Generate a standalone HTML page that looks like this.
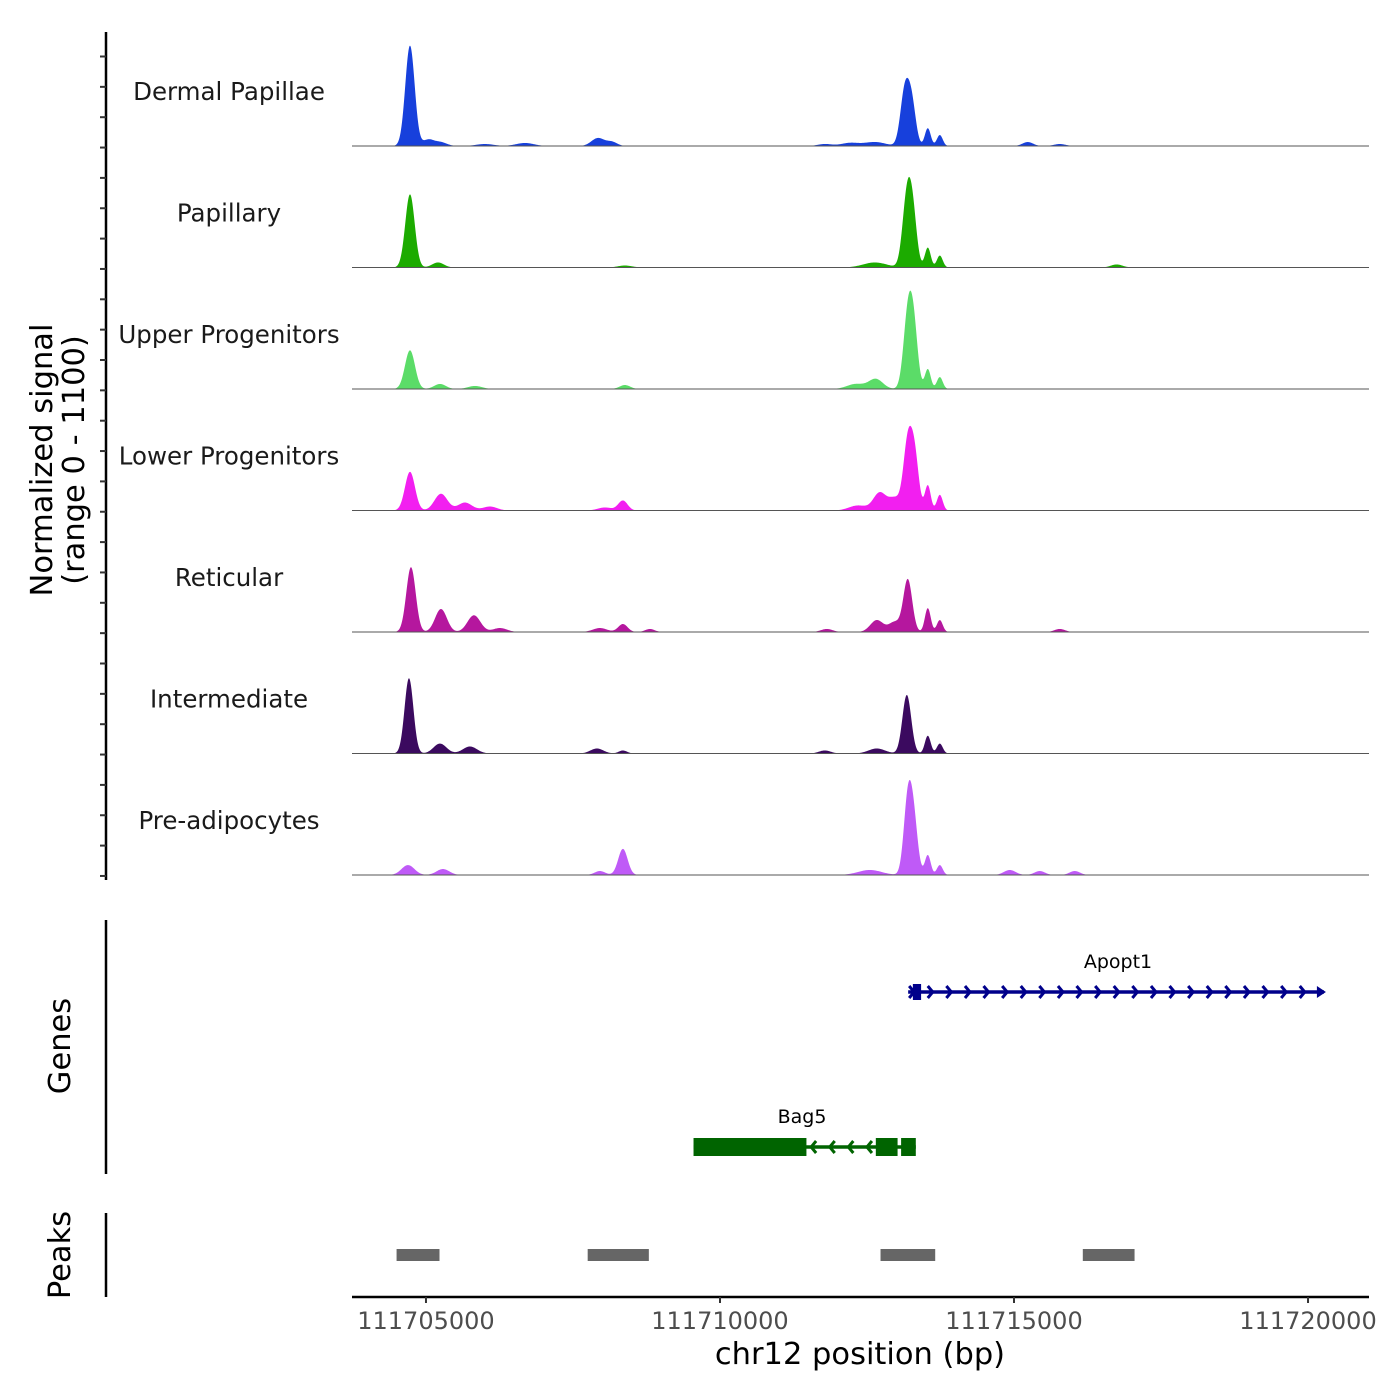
<!DOCTYPE html>
<html><head><meta charset="utf-8">
<style>
html,body{margin:0;padding:0;background:#fff;}
svg{display:block;font-family:"DejaVu Sans","Liberation Sans",sans-serif;}
</style></head>
<body>
<svg id="chart" width="1400" height="1400" viewBox="0 0 1400 1400"></svg>
<script>
// ---- data ----
const xDomain = [111703742, 111721037];
const xTicks = [111705000, 111710000, 111715000, 111720000];
const yMax = 1100;
const trackNames = ["Dermal Papillae","Papillary","Upper Progenitors","Lower Progenitors","Reticular","Intermediate","Pre-adipocytes"];
const trackColors = ["#1740dc","#1cab00","#5bdc68","#f21ff0","#b5179e","#3b0a5f","#bf5af7"];
// peaks per track: positions (bp), heights (signal), widths (bp sigma)
const peakPos = [
 [111704728,111705034,111705238,111706003,111706683,111707924,111708162,111711783,111712208,111712633,111713143,111713262,111713534,111713738,111715234,111715778],
 [111704728,111705204,111708383,111712633,111713177,111713279,111713534,111713738,111716747],
 [111704728,111705238,111705833,111708383,111712310,111712650,111713194,111713296,111713534,111713738],
 [111704728,111705255,111705663,111706088,111708043,111708349,111712344,111712718,111712973,111713194,111713313,111713534,111713738],
 [111704745,111705255,111705816,111706258,111707958,111708349,111708808,111711817,111712667,111712973,111713194,111713534,111713738,111715778],
 [111704711,111705238,111705748,111707907,111708349,111711783,111712667,111713177,111713534,111713738],
 [111704694,111705289,111707958,111708349,111712548,111713194,111713296,111713534,111713738,111714928,111715438,111716033]
];
const peakHeight = [
 [960,57,38,19,29,76,38,19,29,38,520,380,170,105,38,19],
 [700,48,19,48,640,460,190,114,29],
 [370,48,29,38,48,95,680,520,190,114],
 [370,160,76,38,29,95,48,170,114,640,475,240,150],
 [620,220,160,38,38,76,29,29,114,95,500,228,114,29],
 [720,95,67,48,29,29,48,560,170,95],
 [95,57,38,250,48,690,475,190,95,48,38,38]
];
const peakWidth = [
 [80,90,110,150,150,110,90,120,150,180,75,70,50,50,90,100],
 [80,100,120,200,75,70,50,50,100],
 [85,100,120,90,150,120,75,70,50,50],
 [85,110,120,120,120,80,150,110,100,75,70,50,50],
 [80,100,110,120,120,80,80,100,110,100,75,50,50,90],
 [75,110,120,110,70,100,140,75,50,50],
 [110,110,90,80,200,70,70,50,50,100,90,90]
];
const geneNames = ["Apopt1","Bag5"];
const geneStart = [111713200, 111709550];
const geneEnd = [111720270, 111713330];
const geneStrand = [1, -1];
const exonStart = [[111713280],[111709550,111712650,111713080]];
const exonEnd = [[111713420],[111711470,111713020,111713330]];
const peakRegStart = [111704500, 111707750, 111712730, 111716170];
const peakRegEnd = [111705230, 111708790, 111713660, 111717050];

// ---- layout ----
const NS="http://www.w3.org/2000/svg";
const svg=document.getElementById('chart');
const X0=352,X1=1369;
const xs=v=>X0+(v-xDomain[0])/(xDomain[1]-xDomain[0])*(X1-X0);
const trackH=121.5, firstBase=146, pxMax=115;
function mk(tag,attrs,parent){const e=document.createElementNS(NS,tag);for(const k in attrs)e.setAttribute(k,attrs[k]);(parent||svg).appendChild(e);return e;}

for(let t=0;t<trackNames.length;t++){
  const base=firstBase+t*trackH;
  const g=mk('g',{});
  
  
  const ys=v=>base-v/yMax*pxMax;
  let d='M'+X0+','+base;
  for(let px=X0;px<=X1;px+=0.5){
    const bp=xDomain[0]+(px-X0)/(X1-X0)*(xDomain[1]-xDomain[0]);
    let s=0;
    for(let i=0;i<peakPos[t].length;i++){const z=(bp-peakPos[t][i])/peakWidth[t][i];s+=peakHeight[t][i]*Math.exp(-0.5*z*z);}
    d+=' L'+px.toFixed(1)+','+ys(s).toFixed(2);
  }
  d+=' L'+X1+','+base+' Z';
  const p=mk('path',{d:d,fill:trackColors[t],stroke:'none'},g);
  
  
  const bl=mk('line',{x1:X0,x2:X1,y1:base,y2:base,stroke:'#555','stroke-width':1},g);
  
  
  const lb=mk('text',{x:229,y:base-46,'font-size':24.5,'text-anchor':'middle',fill:'#1a1a1a'},g);
  lb.textContent=trackNames[t];
  
  
}

const ya=mk('line',{x1:106,x2:106,y1:32,y2:880,stroke:'#000','stroke-width':2.5});


for(let y=56.5;y<=878;y+=30.35){
  const tk=mk('line',{x1:100,x2:106,y1:y,y2:y,stroke:'#333','stroke-width':2});
  
  
}
const yt=mk('text',{transform:'translate(52,460) rotate(-90)','font-size':30.5,'text-anchor':'middle',fill:'#000'});


const t1=mk('tspan',{x:0,dy:0},yt);t1.textContent='Normalized signal';
const t2=mk('tspan',{x:0,dy:32},yt);t2.textContent='(range 0 - 1100)';

const ga=mk('line',{x1:106,x2:106,y1:920,y2:1174,stroke:'#000','stroke-width':2.5});


const gt=mk('text',{transform:'translate(70,1046) rotate(-90)','font-size':30.5,'text-anchor':'middle'});
gt.textContent='Genes';


const geneY=[992,1147], geneCol=['#00008b','#006400'];
for(let i=0;i<geneNames.length;i++){
  const g=mk('g',{});
  
  
  const y=geneY[i],c=geneCol[i];
  const a=xs(geneStart[i]),b=xs(geneEnd[i]);
  mk('line',{x1:a,x2:b,y1:y,y2:y,stroke:c,'stroke-width':3.5},g);
  for(let x=a+6;x<b-3;x+=18.6){
    const dir=geneStrand[i];
    mk('polyline',{points:(x-5*dir)+','+(y-6)+' '+x+','+y+' '+(x-5*dir)+','+(y+6),fill:'none',stroke:c,'stroke-width':3},g);
  }
  if(geneStrand[i]>0) mk('polygon',{points:(b-7)+','+(y-6)+' '+(b+2)+','+y+' '+(b-7)+','+(y+6),fill:c},g);
  const h=i===0?16:18;
  for(let k=0;k<exonStart[i].length;k++){
    const ex=mk('rect',{x:xs(exonStart[i][k]),y:y-h/2,width:xs(exonEnd[i][k])-xs(exonStart[i][k]),height:h,fill:c},g);
    
    
  }
  const lb=mk('text',{x:i===0?1118:802,y:y-24,'font-size':19,'text-anchor':'middle',fill:'#000'},g);
  lb.textContent=geneNames[i];
}

const pa=mk('line',{x1:106,x2:106,y1:1213,y2:1297,stroke:'#000','stroke-width':2.5});


const pt=mk('text',{transform:'translate(70,1255) rotate(-90)','font-size':30.5,'text-anchor':'middle'});
pt.textContent='Peaks';


for(let i=0;i<peakRegStart.length;i++){
  const r=mk('rect',{x:xs(peakRegStart[i]),y:1249,width:xs(peakRegEnd[i])-xs(peakRegStart[i]),height:12,fill:'#666'});
  
  
}

const xa=mk('line',{x1:X0,x2:X1,y1:1297,y2:1297,stroke:'#000','stroke-width':2.5});


for(const v of xTicks){
  const tk=mk('line',{x1:xs(v),x2:xs(v),y1:1297,y2:1303,stroke:'#333','stroke-width':2});
  
  
  const tl=mk('text',{x:xs(v),y:1329,'font-size':24,'text-anchor':'middle',fill:'#4d4d4d'});
  tl.textContent=String(v);
  
  
}
const xt=mk('text',{x:860,y:1364,'font-size':30.5,'text-anchor':'middle',fill:'#000'});
xt.textContent='chr12 position (bp)';


</script>
</body></html>
